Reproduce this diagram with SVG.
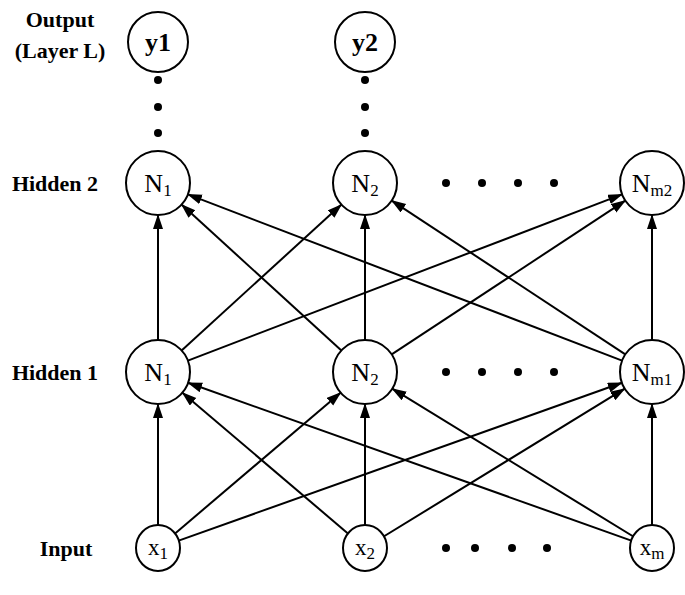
<svg xmlns="http://www.w3.org/2000/svg" width="685" height="595" viewBox="0 0 685 595">
<style>
.n{fill:#fff;stroke:#000;stroke-width:2}
.t{font-family:"Liberation Serif",serif;font-size:26px;text-anchor:middle;fill:#000}
.b{font-weight:bold}
.s{font-size:17px}
.lab{font-family:"Liberation Serif",serif;font-size:22px;font-weight:bold;text-anchor:middle;fill:#000}
.c line{stroke:#000;stroke-width:2;marker-end:url(#ah)}
</style>
<defs><marker id="ah" markerUnits="userSpaceOnUse" markerWidth="16" markerHeight="12" refX="14" refY="5" orient="auto"><path d="M0,0L15,5L0,10z" fill="#000"/></marker></defs>
<g id="labels">
<text class="lab" x="60" y="27">Output</text>
<text class="lab" x="60" y="58">(Layer L)</text>
<text class="lab" x="55" y="191">Hidden 2</text>
<text class="lab" x="55" y="380">Hidden 1</text>
<text class="lab" x="66" y="556">Input</text>
</g>
<g id="dots" fill="#000">
<circle cx="158" cy="80" r="4"/><circle cx="158" cy="107" r="4"/><circle cx="158" cy="133" r="4"/>
<circle cx="365" cy="80" r="4"/><circle cx="365" cy="107" r="4"/><circle cx="365" cy="133" r="4"/>
<circle cx="446" cy="183" r="4"/><circle cx="482" cy="183" r="4"/><circle cx="518" cy="183" r="4"/><circle cx="554" cy="183" r="4"/>
<circle cx="446" cy="372" r="4"/><circle cx="482" cy="372" r="4"/><circle cx="518" cy="372" r="4"/><circle cx="554" cy="372" r="4"/>
<circle cx="446" cy="548" r="4"/><circle cx="475" cy="548" r="4"/><circle cx="512" cy="548" r="4"/><circle cx="547" cy="548" r="4"/>
</g>
<g class="c" id="connectors">
<line x1="158" y1="526" x2="158" y2="404"/>
<line x1="174.8" y1="533.7" x2="340.6" y2="392.7"/>
<line x1="178.7" y1="540.6" x2="621.9" y2="382.8"/>
<line x1="348.2" y1="533.7" x2="182.4" y2="392.7"/>
<line x1="365" y1="526" x2="365" y2="404"/>
<line x1="383.7" y1="536.5" x2="624.7" y2="388.7"/>
<line x1="631.3" y1="540.6" x2="188.1" y2="382.8"/>
<line x1="633.3" y1="536.5" x2="392.3" y2="388.7"/>
<line x1="652" y1="526" x2="652" y2="404"/>
<line x1="158" y1="340" x2="158" y2="215"/>
<line x1="181.6" y1="350.4" x2="341.4" y2="204.6"/>
<line x1="187.9" y1="360.6" x2="622.1" y2="194.4"/>
<line x1="341.4" y1="350.4" x2="181.6" y2="204.6"/>
<line x1="365" y1="340" x2="365" y2="215"/>
<line x1="391.7" y1="354.4" x2="625.3" y2="200.6"/>
<line x1="622.1" y1="360.6" x2="187.9" y2="194.4"/>
<line x1="625.3" y1="354.4" x2="391.7" y2="200.6"/>
<line x1="652" y1="340" x2="652" y2="215"/>
</g>
<g id="y1"><circle class="n" cx="158" cy="42" r="30"/><text class="t b" x="158" y="51">y1</text></g>
<g id="y2"><circle class="n" cx="365" cy="42" r="30"/><text class="t b" x="365" y="51">y2</text></g>
<g id="h2n1"><circle class="n" cx="158" cy="183" r="32"/><text class="t" x="158" y="192">N<tspan class="s" dy="4">1</tspan></text></g>
<g id="h2n2"><circle class="n" cx="365" cy="183" r="32"/><text class="t" x="365" y="192">N<tspan class="s" dy="4">2</tspan></text></g>
<g id="h2nm"><circle class="n" cx="652" cy="183" r="32"/><text class="t" x="652" y="192">N<tspan class="s" dy="4">m2</tspan></text></g>
<g id="h1n1"><circle class="n" cx="158" cy="372" r="32"/><text class="t" x="158" y="381">N<tspan class="s" dy="4">1</tspan></text></g>
<g id="h1n2"><circle class="n" cx="365" cy="372" r="32"/><text class="t" x="365" y="381">N<tspan class="s" dy="4">2</tspan></text></g>
<g id="h1nm"><circle class="n" cx="652" cy="372" r="32"/><text class="t" x="652" y="381">N<tspan class="s" dy="4">m1</tspan></text></g>
<g id="x1"><ellipse class="n" cx="158" cy="548" rx="22" ry="23"/><text class="t" x="158" y="555" style="font-size:23px">x<tspan class="s" dy="4">1</tspan></text></g>
<g id="x2"><ellipse class="n" cx="365" cy="548" rx="22" ry="23"/><text class="t" x="365" y="555" style="font-size:23px">x<tspan class="s" dy="4">2</tspan></text></g>
<g id="xm"><ellipse class="n" cx="652" cy="548" rx="22" ry="23"/><text class="t" x="652" y="555" style="font-size:23px">x<tspan class="s" dy="4">m</tspan></text></g>
</svg>
